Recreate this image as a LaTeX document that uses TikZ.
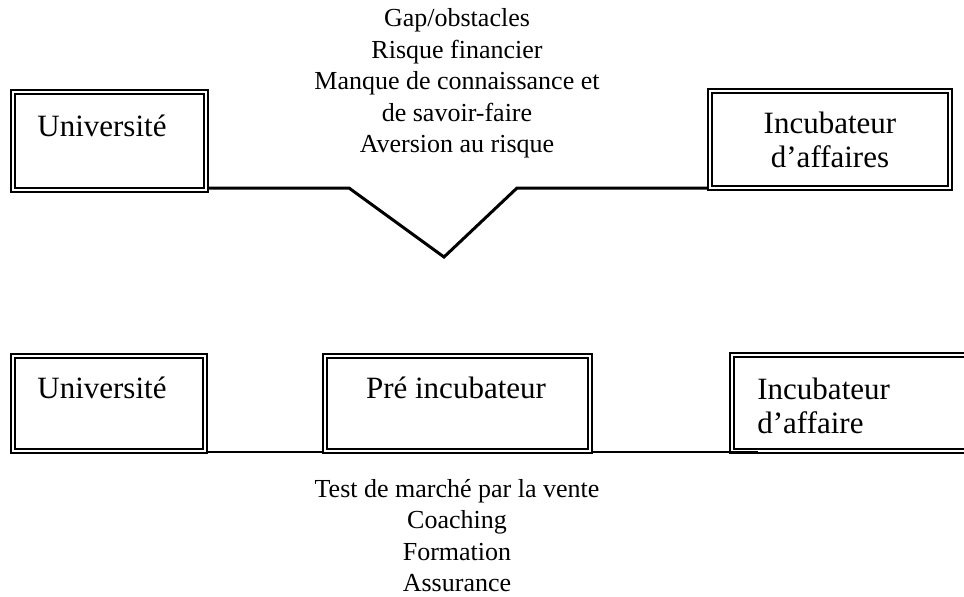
\documentclass[tikz,border=0pt]{standalone}
\usepackage{fontspec}
\setmainfont{Liberation Serif}
\tikzset{
  dblbox/.style={draw, double, line width=1.1pt, double distance=1pt, outer sep=1.6pt, inner sep=0pt},
  boxtext/.style={font=\fontsize{15.5}{17}\selectfont, inner sep=0pt},
  gaptext/.style={font=\fontsize{13}{15.75}\selectfont, align=center, inner sep=0pt},
  gapline/.style={line width=1.5pt, line join=miter},
  flowline/.style={line width=0.6pt}
}
\begin{document}
\begin{tikzpicture}[x=0.5pt,y=-0.5pt]
  \useasboundingbox (0,0) rectangle (964,596);
  \clip (0,0) rectangle (964,596);

  % Top row: the gap
  \node[dblbox, minimum width=96.3pt, minimum height=48.8pt] (univA) at (109.5,141) {};
  \node[boxtext, anchor=base west] (univAtext) at (37,136) {Université};
  \node[dblbox, boxtext, align=center, minimum width=119.8pt, minimum height=48.3pt] (incA) at (830,139.5) {Incubateur\\d’affaires};
  % anchor base = last line
  \node[gaptext, anchor=base] (obstacles) at (457,152.5) {Gap/obstacles\\Risque financier\\Manque de connaissance et\\de savoir-faire\\Aversion au risque};

  \coordinate (vleft) at (349,188);
  \coordinate (vtip) at (444,257);
  \coordinate (vright) at (517,188);
  \draw[gapline] (univA.east |- vleft) -- (vleft) -- (vtip) -- (vright) -- (incA.west |- vright);

  % Bottom row: the bridge
  \node[dblbox, minimum width=95.8pt, minimum height=47.3pt] (univB) at (109,403.5) {};
  \node[boxtext, anchor=base west] (univBtext) at (37,398) {Université};
  \node[dblbox, minimum width=132.3pt, minimum height=47.3pt] (pre) at (457.5,403.5) {};
  \node[boxtext, anchor=base] (pretext) at (456,398) {Pré incubateur};
  \node[dblbox, minimum width=119.8pt, minimum height=47.8pt] (incB) at (852,403) {};
  \node[boxtext, align=left, anchor=base west] (incBtext) at (757,433) {Incubateur\\d’affaire};
  \node[gaptext, anchor=base] (services) at (457,591.5) {Test de marché par la vente\\Coaching\\Formation\\Assurance};

  \coordinate (flow) at (0,452);
  \coordinate (flowend) at (758,452);
  \draw[flowline] (univB.east |- flow) -- (pre.west |- flow);
  \draw[flowline] (pre.east |- flow) -- (incB.west |- flow);
  \draw[line width=1.1pt] (incB.west |- flow) -- (flowend);
\end{tikzpicture}
\end{document}
